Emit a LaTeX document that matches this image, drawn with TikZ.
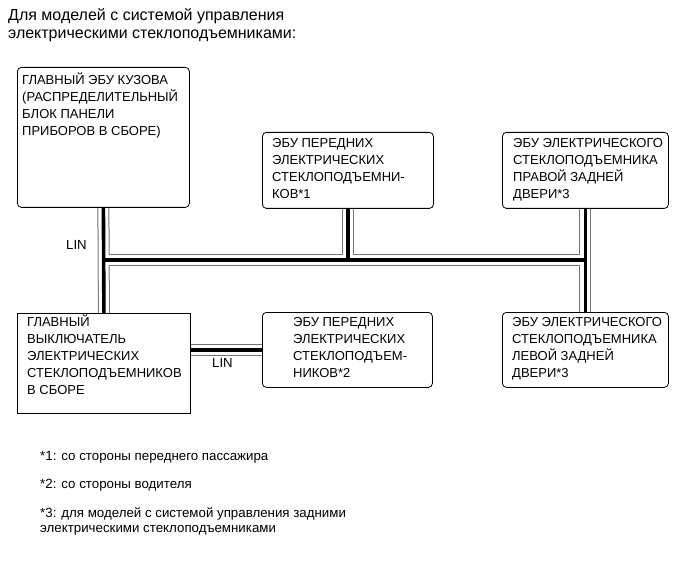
\documentclass[tikz,border=0pt]{standalone}
\usepackage{fontspec}
\setmainfont{Liberation Sans}
\pgfdeclarelayer{background}
\pgfsetlayers{background,main}
\tikzset{
  box/.style={draw=black, line width=0.8pt, fill=white, rounded corners=4pt, inner sep=0pt, anchor=north west},
  sqbox/.style={draw=black, line width=0.8pt, fill=white, inner sep=0pt, anchor=north west},
  txt/.style={font=\fontsize{13}{17}\selectfont, align=left, inner sep=0pt, anchor=north west},
  note/.style={font=\fontsize{13.3}{15}\selectfont, align=left, inner sep=0pt, anchor=base west},
  ttl/.style={font=\fontsize{16}{18}\selectfont, align=left, inner sep=0pt, anchor=base west},
  lbl/.style={font=\fontsize{13.2}{14}\selectfont, inner sep=0pt, anchor=base west},
  cableo/.style={draw=black!55, line width=12pt},
  cablew/.style={draw=white, line width=10pt},
  cablec/.style={draw=black, line width=3.6pt},
}
\begin{document}
\begin{tikzpicture}[x=1pt,y=-1pt]
\useasboundingbox (0,0) rectangle (691,564);
% title
\node[ttl] (title) at (8,39) {Для моделей с системой управления\\электрическими стеклоподъемниками:};
% boxes
\node[box, minimum width=172pt, minimum height=140pt] (body) at (17,67) {};
\node[box, minimum width=171pt, minimum height=76pt] (fwd1) at (262,132) {};
\node[box, minimum width=166pt, minimum height=76pt] (rr) at (502,132) {};
\node[sqbox, minimum width=173pt, minimum height=100pt] (msw) at (17,313) {};
\node[box, minimum width=170pt, minimum height=75pt] (fwd2) at (262,312) {};
\node[box, minimum width=166pt, minimum height=75pt] (rl) at (502,312) {};
% texts
\node[txt] (bodyt) at (22,73) {ГЛАВНЫЙ ЭБУ КУЗОВА\\(РАСПРЕДЕЛИТЕЛЬНЫЙ\\БЛОК ПАНЕЛИ\\ПРИБОРОВ В СБОРЕ)};
\node[txt] (fwd1t) at (272,138) {ЭБУ ПЕРЕДНИХ\\ЭЛЕКТРИЧЕСКИХ\\СТЕКЛОПОДЪЕМНИ-\\КОВ*1};
\node[txt] (rrt) at (513,138) {ЭБУ ЭЛЕКТРИЧЕСКОГО\\СТЕКЛОПОДЪЕМНИКА\\ПРАВОЙ ЗАДНЕЙ\\ДВЕРИ*3};
\node[txt] (mswt) at (27,315) {ГЛАВНЫЙ\\ВЫКЛЮЧАТЕЛЬ\\ЭЛЕКТРИЧЕСКИХ\\СТЕКЛОПОДЪЕМНИКОВ\\В СБОРЕ};
\node[txt] (fwd2t) at (293,317) {ЭБУ ПЕРЕДНИХ\\ЭЛЕКТРИЧЕСКИХ\\СТЕКЛОПОДЪЕМ-\\НИКОВ*2};
\node[txt] (rlt) at (512,317) {ЭБУ ЭЛЕКТРИЧЕСКОГО\\СТЕКЛОПОДЪЕМНИКА\\ЛЕВОЙ ЗАДНЕЙ\\ДВЕРИ*3};
% labels
\node[lbl] (lin1) at (66,250) {LIN};
\node[lbl] (lin2) at (212,367) {LIN};
% cables
\coordinate (busy) at (0,260);
\begin{pgfonlayer}{background}
\foreach \s in {cableo,cablew,cablec}{
  \draw[\s] (body.south) -- (msw.north);
  \draw[\s] (rr.south) -- (rl.north);
  \draw[\s] (body.south |- busy) -- (rr.south |- busy);
  \draw[\s] (fwd1.south) -- (fwd1.south |- busy);
  \draw[\s] (fwd2.west -| msw.east) -- (fwd2.west);
}
\end{pgfonlayer}
% notes
\node[note] (n1) at (40,460) {*1: со стороны переднего пассажира};
\node[note] (n2) at (40,488) {*2: со стороны водителя};
\node[note] (n3) at (40,532) {*3: для моделей с системой управления задними\\электрическими стеклоподъемниками};
\end{tikzpicture}
\end{document}
